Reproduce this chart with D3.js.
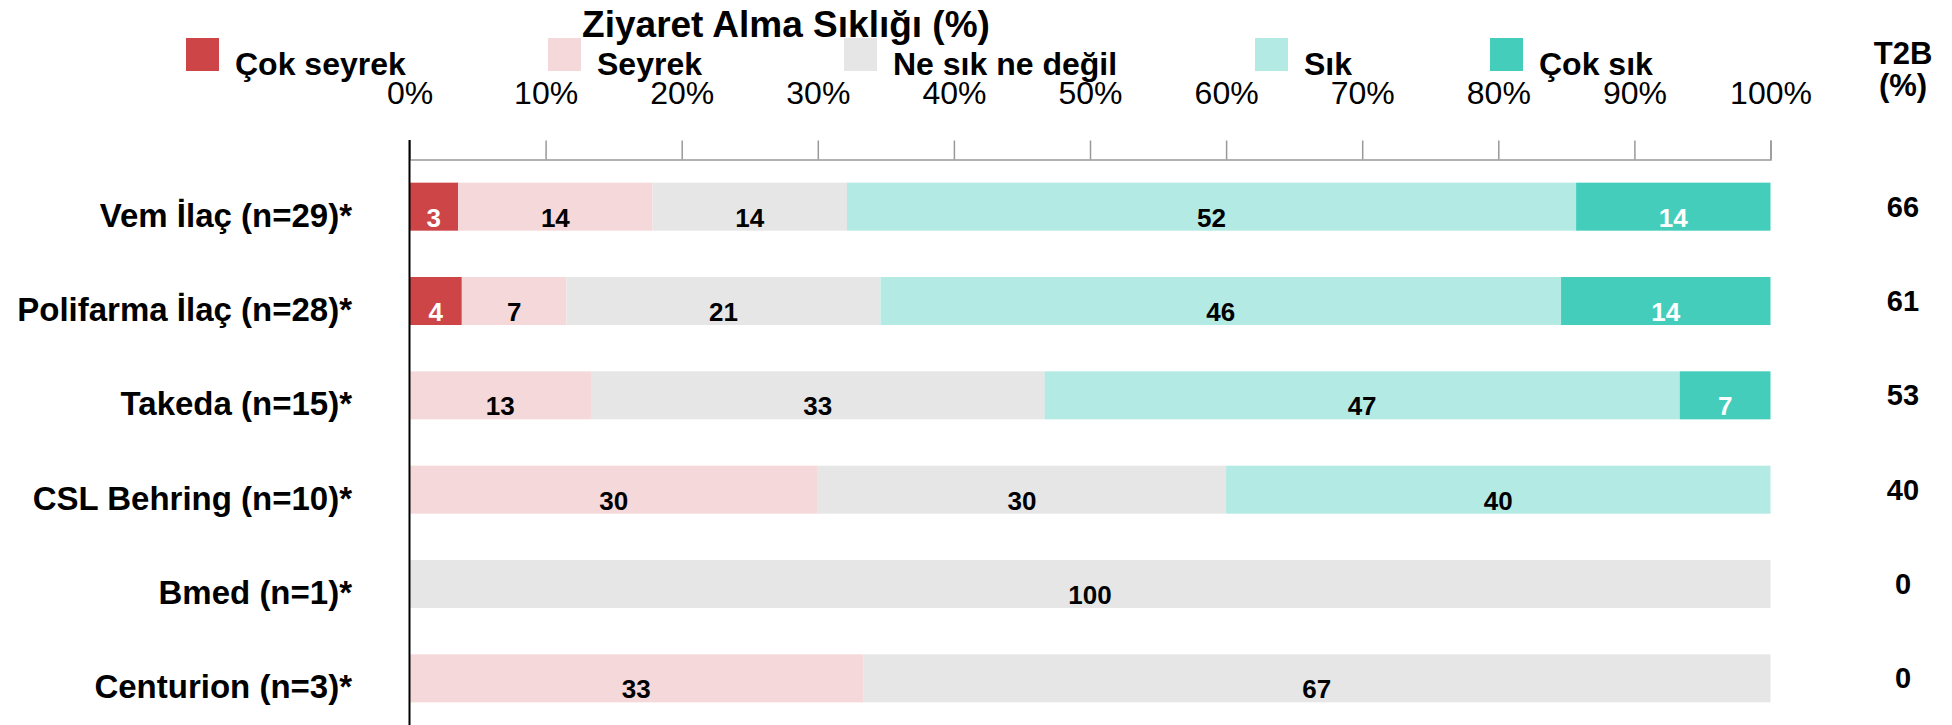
<!DOCTYPE html>
<html>
<head>
<meta charset="utf-8">
<script src="https://cdn.jsdelivr.net/npm/d3@7"></script>
<style>
  body { margin: 0; background: #fff; }
  svg { display: block; font-family: "Liberation Sans", Arial, sans-serif; }
</style>
</head>
<body>
<div id="container"></div>
<script>
// Data (% of respondents per company)
const categories = ['Vem İlaç (n=29)*', 'Polifarma İlaç (n=28)*', 'Takeda (n=15)*', 'CSL Behring (n=10)*', 'Bmed (n=1)*', 'Centurion (n=3)*'];
const seriesNames = ['Çok seyrek', 'Seyrek', 'Ne sık ne değil', 'Sık', 'Çok sık'];
const cokSeyrek = [3.45, 3.57, 0, 0, 0, 0];
const seyrek = [13.79, 7.14, 13.33, 30, 0, 33.33];
const neSikNeDegil = [13.79, 21.43, 33.33, 30, 100, 66.67];
const sik = [51.72, 46.43, 46.67, 40, 0, 0];
const cokSik = [13.79, 14.29, 6.67, 0, 0, 0];
const t2b = [66, 61, 53, 40, 0, 0];
const tickValues = [0, 10, 20, 30, 40, 50, 60, 70, 80, 90, 100];

const colors = ['#cd4547', '#f5d9da', '#e6e6e6', '#b3eae3', '#45cdbb'];
const labelColors = ['#fff', '#000', '#000', '#000', '#fff'];

document.addEventListener('DOMContentLoaded', function() {
  const width = 1952;
  const height = 725;
  const plot = { left: 409.5, right: 1770.5, top: 159.5, bottom: 725.5 };

  const svg = d3.select('#container')
    .append('svg')
    .attr('width', width)
    .attr('height', height);

  const series = [cokSeyrek, seyrek, neSikNeDegil, sik, cokSik];
  const rows = categories.map((c, i) => {
    const row = { name: c };
    series.forEach((s, k) => { row[k] = s[i]; });
    return row;
  });

  // bars are normalised to 100% like the original
  const stacked = d3.stack()
    .keys(d3.range(series.length))
    .offset(d3.stackOffsetExpand)(rows);

  // Scales
  const xScale = d3.scaleLinear()
    .domain([0, 100])
    .range([plot.left, plot.right]);

  const yScale = d3.scaleBand()
    .domain(categories)
    .range([plot.top, plot.bottom])
    .paddingInner(0.491)
    .paddingOuter(0.2455);

  // Title
  svg.append('text')
    .attr('x', 786)
    .attr('y', 37)
    .attr('text-anchor', 'middle')
    .style('font-size', '37px')
    .style('font-weight', 'bold')
    .text('Ziyaret Alma Sıklığı (%)');

  // Legend
  const legendX = [186, 548, 844, 1255, 1490];
  const legend = svg.append('g').attr('class', 'legend');
  seriesNames.forEach((name, i) => {
    legend.append('rect')
      .attr('x', legendX[i])
      .attr('y', 38)
      .attr('width', 33)
      .attr('height', 33)
      .attr('fill', colors[i]);
    legend.append('text')
      .attr('x', legendX[i] + 49)
      .attr('y', 75)
      .style('font-size', '32px')
      .style('font-weight', 'bold')
      .text(name);
  });

  // Top axis
  const xAxis = d3.axisTop(xScale)
    .tickValues(tickValues)
    .tickFormat(d => d + '%')
    .tickSize(19)
    .tickPadding(37);

  const axisG = svg.append('g')
    .attr('transform', `translate(0, ${plot.top})`)
    .call(xAxis);
  axisG.selectAll('path, line').attr('stroke', '#999').attr('stroke-width', 1.5);
  axisG.selectAll('text')
    .attr('fill', '#000')
    .style('font-size', '32px')
    .style('font-family', '"Liberation Sans", Arial, sans-serif');

  // Bars
  const groups = svg.selectAll('.series')
    .data(stacked)
    .enter()
    .append('g')
    .attr('class', 'series')
    .attr('fill', d => colors[d.key]);

  groups.selectAll('rect')
    .data(d => d)
    .enter()
    .append('rect')
    .attr('x', d => xScale(d[0] * 100))
    .attr('y', d => yScale(d.data.name))
    .attr('width', d => xScale(d[1] * 100) - xScale(d[0] * 100))
    .attr('height', yScale.bandwidth());

  // Value labels
  stacked.forEach(s => {
    svg.append('g')
      .selectAll('text')
      .data(s.filter(d => d.data[s.key] > 0))
      .enter()
      .append('text')
      .attr('x', d => xScale((d[0] + d[1]) * 50))
      .attr('y', d => yScale(d.data.name) + yScale.bandwidth() - 4)
      .attr('text-anchor', 'middle')
      .attr('fill', labelColors[s.key])
      .style('font-size', '26px')
      .style('font-weight', 'bold')
      .text(d => Math.round(d.data[s.key]));
  });

  // Left axis line
  svg.append('line')
    .attr('x1', plot.left)
    .attr('x2', plot.left)
    .attr('y1', plot.top - 19.5)
    .attr('y2', height)
    .attr('stroke', '#000')
    .attr('stroke-width', 2);

  // Category labels
  svg.append('g')
    .selectAll('text')
    .data(categories)
    .enter()
    .append('text')
    .attr('x', 352)
    .attr('y', d => yScale(d) + yScale.bandwidth() - 4)
    .attr('text-anchor', 'end')
    .style('font-size', '33px')
    .style('font-weight', 'bold')
    .text(d => d);

  // T2B column
  const t2bHead = svg.append('text')
    .attr('x', 1903)
    .attr('text-anchor', 'middle')
    .style('font-size', '31px')
    .style('font-weight', 'bold');
  t2bHead.append('tspan').attr('x', 1903).attr('y', 64).text('T2B');
  t2bHead.append('tspan').attr('x', 1903).attr('y', 96).text('(%)');

  svg.append('g')
    .selectAll('text')
    .data(categories)
    .enter()
    .append('text')
    .attr('x', 1903)
    .attr('y', (d, i) => yScale(d) + yScale.bandwidth() / 2 + 10)
    .attr('text-anchor', 'middle')
    .style('font-size', '29px')
    .style('font-weight', 'bold')
    .text((d, i) => t2b[i]);
});
</script>
</body>
</html>
